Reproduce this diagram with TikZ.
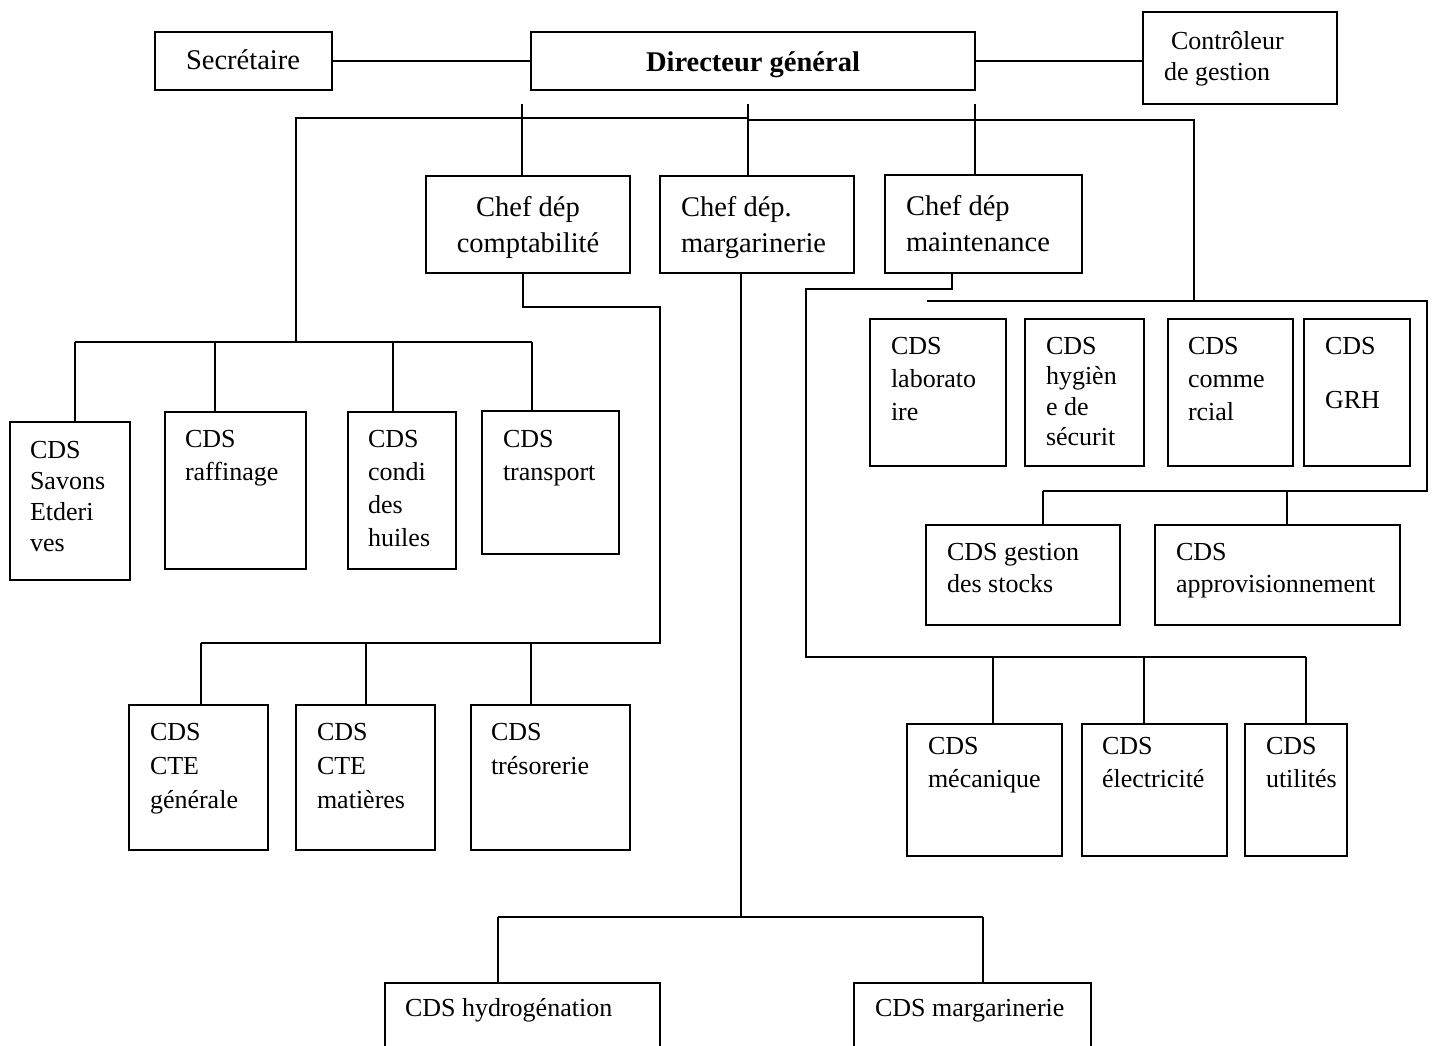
\documentclass[tikz,border=0pt]{standalone}
\usepackage{fontspec}
\setmainfont{Liberation Serif}
\usetikzlibrary{fit}

% text label: top-left corner placed from the baseline of its first line
\newcommand\lab[5][]{\node[lbl,#1] (#2) at (#3,#4-17) {#5};}

\begin{document}
\begin{tikzpicture}[x=1pt,y=-1pt,
  orgbox/.style={draw,line width=2pt,inner sep=0pt,outer sep=0pt},
  wire/.style={line width=2pt},
  lbl/.style={anchor=north west,inner sep=0pt,outer sep=0pt,align=left,
    font=\fontsize{26}{33}\selectfont,execute at begin node={\rule{0pt}{24pt}}},
  lblc/.style={anchor=north,align=center},
  big/.style={font=\fontsize{28.5}{36}\selectfont},
  bold/.style={font=\fontsize{28.5}{36}\selectfont\bfseries},
]
\useasboundingbox (0,0) rectangle (1434,1046);

% ---------- top level ----------
\node[orgbox,fit={(155,32)(332,90)}] (sec) {};
\node[orgbox,fit={(531,32)(975,90)}] (dir) {};
\node[orgbox,fit={(1143,12)(1337,104)}] (ctl) {};
\lab[big,lblc]{sec-t}{243}{63}{Secrétaire}
\lab[bold,lblc]{dir-t}{753}{65}{Directeur général}
\lab[font=\fontsize{26}{31}\selectfont]{ctl-t}{1164}{48}{\hspace*{7pt}Contrôleur\\de gestion}

\draw[wire] (sec) -- (dir);
\draw[wire] (dir.east) -- (dir.east -| ctl.west);

% ---------- department heads ----------
\node[orgbox,fit={(426,176)(630,273)}] (chefA) {};
\node[orgbox,fit={(660,176)(854,273)}] (chefB) {};
\node[orgbox,fit={(885,175)(1082,273)}] (chefC) {};
\lab[big,lblc]{chefA-t}{528}{213}{Chef dép\\comptabilité}
\lab[big]{chefB-t}{681}{213}{Chef dép.\\margarinerie}
\lab[big]{chefC-t}{906}{212}{Chef dép\\maintenance}

\coordinate (s1) at (522,104);
\coordinate (s2) at (748,104);
\coordinate (s3) at (975,104);
\draw[wire] (s1) -- (s1 |- chefA.north);
\draw[wire] (s2) -- (s2 |- chefB.north);
\draw[wire] (s3) -- (s3 |- chefC.north);

% ---------- production services (left) ----------
\node[orgbox,fit={(10,422)(130,580)}] (savons) {};
\node[orgbox,fit={(165,412)(306,569)}] (raff) {};
\node[orgbox,fit={(348,412)(456,569)}] (condi) {};
\node[orgbox,fit={(482,411)(619,554)}] (transp) {};
\lab[font=\fontsize{26}{31}\selectfont]{savons-t}{30}{458}{CDS\\Savons\\Etderi\\ves}
\lab{raff-t}{185}{447}{CDS\\raffinage}
\lab{condi-t}{368}{447}{CDS\\condi\\des\\huiles}
\lab{transp-t}{503}{447}{CDS\\transport}

\coordinate (jT) at (296,118);
\coordinate (k1) at (748,118);
\coordinate (k2) at (748,120);
\coordinate (k3) at (1194,120);
\coordinate (k4) at (1194,301);
\coordinate (a1) at (75,342);
\coordinate (a2) at (215,342);
\coordinate (jL) at (296,342);
\coordinate (a3) at (393,342);
\coordinate (a4) at (532,342);
\draw[wire] (jL) -- (jT) -- (k1) -- (k2) -- (k3) -- (k4);
\draw[wire] (a1) -- (a4);
\draw[wire] (a1) -- (a1 |- savons.north);
\draw[wire] (a2) -- (a2 |- raff.north);
\draw[wire] (a3) -- (a3 |- condi.north);
\draw[wire] (a4) -- (a4 |- transp.north);

% ---------- accounting services ----------
\node[orgbox,fit={(129,705)(268,850)}] (ctegen) {};
\node[orgbox,fit={(296,705)(435,850)}] (ctemat) {};
\node[orgbox,fit={(471,705)(630,850)}] (treso) {};
\lab[font=\fontsize{26}{34}\selectfont]{ctegen-t}{150}{740}{CDS\\CTE\\générale}
\lab[font=\fontsize{26}{34}\selectfont]{ctemat-t}{317}{740}{CDS\\CTE\\matières}
\lab[font=\fontsize{26}{34}\selectfont]{treso-t}{491}{740}{CDS\\trésorerie}

\coordinate (b0) at (523,307);
\coordinate (b1) at (660,307);
\coordinate (b2) at (660,643);
\coordinate (b3) at (201,643);
\coordinate (b4) at (366,643);
\coordinate (b5) at (531,643);
\draw[wire] (b0 |- chefA.south) -- (b0) -- (b1) -- (b2) -- (b3);
\draw[wire] (b3) -- (b3 |- ctegen.north);
\draw[wire] (b4) -- (b4 |- ctemat.north);
\draw[wire] (b5) -- (b5 |- treso.north);

% ---------- margarine services ----------
\node[orgbox,fit={(385,983)(660,1070)}] (hydro) {};
\node[orgbox,fit={(854,983)(1091,1070)}] (margc) {};
\lab{hydro-t}{405}{1009}{CDS hydrogénation}
\lab{margc-t}{875}{1009}{CDS margarinerie}

\coordinate (c0) at (741,917);
\coordinate (c1) at (498,917);
\coordinate (c2) at (983,917);
\draw[wire] (c0 |- chefB.south) -- (c0);
\draw[wire] (c1) -- (c2);
\draw[wire] (c1) -- (c1 |- hydro.north);
\draw[wire] (c2) -- (c2 |- margc.north);

% ---------- support services (right) ----------
\node[orgbox,fit={(870,319)(1006,466)}] (labo) {};
\node[orgbox,fit={(1025,319)(1144,466)}] (hyg) {};
\node[orgbox,fit={(1168,319)(1293,466)}] (comm) {};
\node[orgbox,fit={(1304,319)(1410,466)}] (grh) {};
\lab{labo-t}{891}{354}{CDS\\laborato\\ire}
\lab[font=\fontsize{26}{30.5}\selectfont]{hyg-t}{1046}{354}{CDS\\hygièn\\e de\\sécurit}
\lab{comm-t}{1188}{354}{CDS\\comme\\rcial}
\lab{grh-t}{1325}{354}{CDS\\[21pt]GRH}

\node[orgbox,fit={(926,525)(1120,625)}] (stock) {};
\node[orgbox,fit={(1155,525)(1400,625)}] (appro) {};
\lab[font=\fontsize{26}{32}\selectfont]{stock-t}{947}{560}{CDS gestion\\des stocks}
\lab[font=\fontsize{26}{32}\selectfont]{appro-t}{1176}{560}{CDS\\approvisionnement}

\coordinate (rb1) at (927,301);
\coordinate (rb2) at (1427,301);
\coordinate (rb3) at (1427,491);
\coordinate (rb4) at (1043,491);
\coordinate (rb5) at (1287,491);
\draw[wire] (rb1) -- (rb2) -- (rb3) -- (rb4);
\draw[wire] (rb4) -- (rb4 |- stock.north);
\draw[wire] (rb5) -- (rb5 |- appro.north);

% ---------- maintenance services ----------
\node[orgbox,fit={(907,724)(1062,856)}] (meca) {};
\node[orgbox,fit={(1082,724)(1227,856)}] (elec) {};
\node[orgbox,fit={(1245,724)(1347,856)}] (util) {};
\lab{meca-t}{928}{754}{CDS\\mécanique}
\lab{elec-t}{1102}{754}{CDS\\électricité}
\lab{util-t}{1266}{754}{CDS\\utilités}

\coordinate (d0) at (952,289);
\coordinate (d1) at (806,289);
\coordinate (d2) at (806,657);
\coordinate (d3) at (993,657);
\coordinate (d4) at (1144,657);
\coordinate (d5) at (1306,657);
\draw[wire] (d0 |- chefC.south) -- (d0) -- (d1) -- (d2) -- (d5);
\draw[wire] (d3) -- (d3 |- meca.north);
\draw[wire] (d4) -- (d4 |- elec.north);
\draw[wire] (d5) -- (d5 |- util.north);
\end{tikzpicture}
\end{document}
